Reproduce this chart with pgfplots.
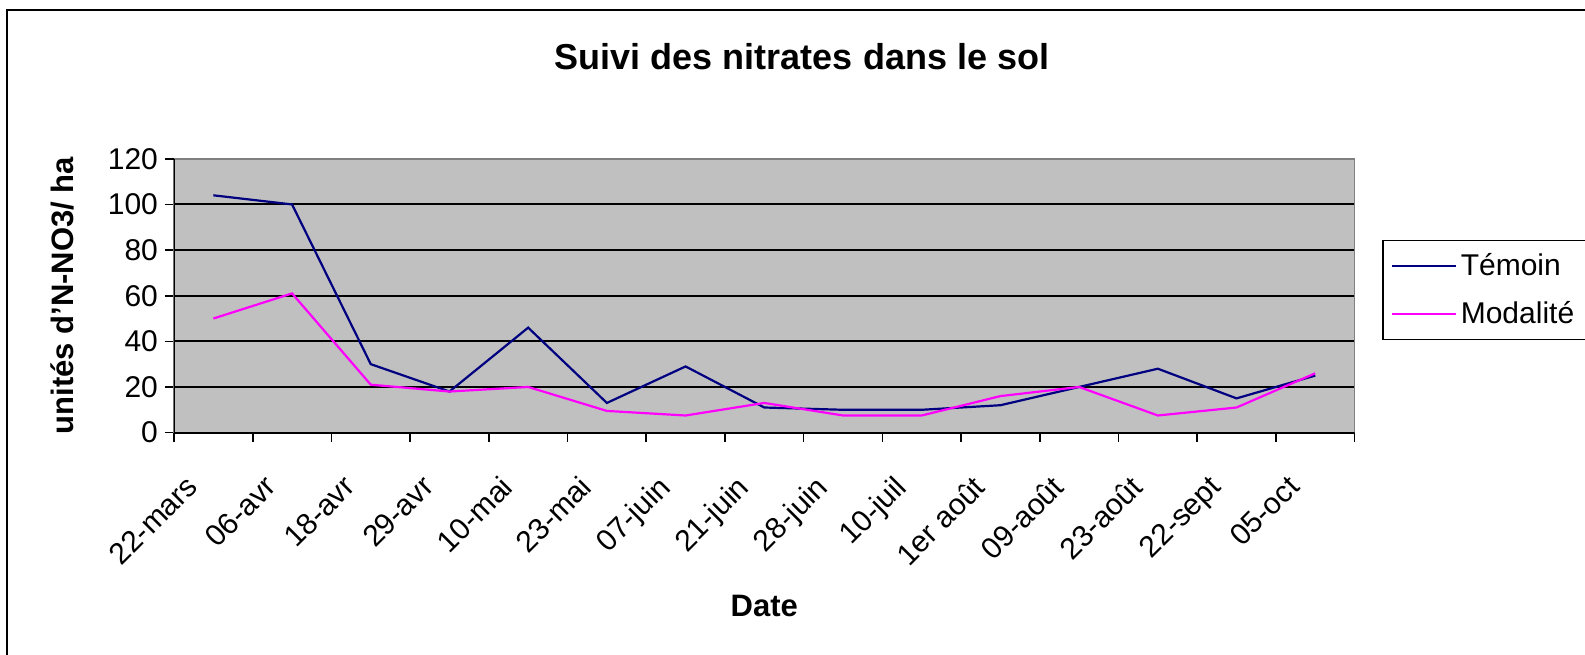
\documentclass[border=0pt]{standalone}
\usepackage{fontspec}
\setmainfont{Liberation Sans}
\usepackage{pgfplots}
\pgfplotsset{compat=1.18}
\definecolor{plotbg}{RGB}{192,192,192}
\definecolor{temoin}{RGB}{0,0,128}
\definecolor{modal}{RGB}{255,0,255}
\definecolor{bordergray}{RGB}{128,128,128}
\begin{document}
\begin{tikzpicture}
\useasboundingbox (0,0) rectangle (792.5pt,327pt);
\draw[line width=1.2pt] (3.5pt,-10pt) rectangle (810pt,322pt);
\node[font=\fontsize{18}{21}\selectfont\bfseries] at (401pt,298.7pt) {Suivi des nitrates dans le sol};
\begin{axis}[
  at={(87pt,110.7pt)}, anchor=south west,
  scale only axis, width=590.3pt, height=136.9pt,
  xmin=-0.5, xmax=14.5, ymin=0, ymax=120,
  xtick={0,...,14},
  xticklabels={22-mars,06-avr,18-avr,29-avr,10-mai,23-mai,07-juin,21-juin,28-juin,10-juil,1er août,09-août,23-août,22-sept,05-oct},
  minor xtick={-0.5,0.5,...,14.5},
  ytick={0,20,...,100},
  extra y ticks={120},
  extra y tick style={grid=none},
  xtick pos=bottom, ytick pos=left,
  tick align=outside,
  major tick length=4.5pt,
  minor tick length=4.5pt,
  major x tick style={draw=none},
  minor x tick style={black, line width=0.8pt},
  major y tick style={black, line width=0.8pt},
  ymajorgrids,
  major y grid style={black, line width=1pt},
  axis line style={draw=bordergray, line width=0.8pt},
  axis background/.style={fill=plotbg},
  ticklabel style={font=\fontsize{15}{18}\selectfont},
  /pgf/number format/assume math mode=true,
  xticklabel style={rotate=45, anchor=north east, inner sep=1pt, xshift=-20.5pt},
  xlabel={Date},
  ylabel={unités d'N-NO3/ ha},
  label style={font=\fontsize{15.5}{18}\selectfont\bfseries},
  xlabel style={at={(axis description cs:0.5,-0.635)}, anchor=center},
  ylabel style={at={(axis description cs:-0.0944,0.5)}, anchor=center, rotate=0},
  legend style={at={(1,0.705)}, anchor=north west, xshift=13.7pt,
    draw=black, line width=0.8pt, font=\fontsize{15}{18}\selectfont,
    inner xsep=4pt, inner ysep=4.5pt, row sep=7.5pt},
  legend cell align=left,
  legend image code/.code={\draw[#1, line width=1pt] (0pt,0pt) -- (32pt,0pt);},
]
\addplot[temoin, line width=1.1pt] coordinates {
(0,104) (1,100) (2,30) (3,18) (4,46) (5,13) (6,29) (7,11) (8,10) (9,10) (10,12) (11,20) (12,28) (13,15) (14,25)};
\addplot[modal, line width=1.1pt] coordinates {
(0,50) (1,61) (2,21) (3,18) (4,20) (5,9.5) (6,7.5) (7,13) (8,7.5) (9,7.5) (10,16) (11,20) (12,7.5) (13,11) (14,26)};
\legend{Témoin, Modalité\hspace{8pt}}
\draw[black, line width=1pt] (rel axis cs:0,1) -- (rel axis cs:0,0) -- (rel axis cs:1,0);
\end{axis}
\end{tikzpicture}
\end{document}
